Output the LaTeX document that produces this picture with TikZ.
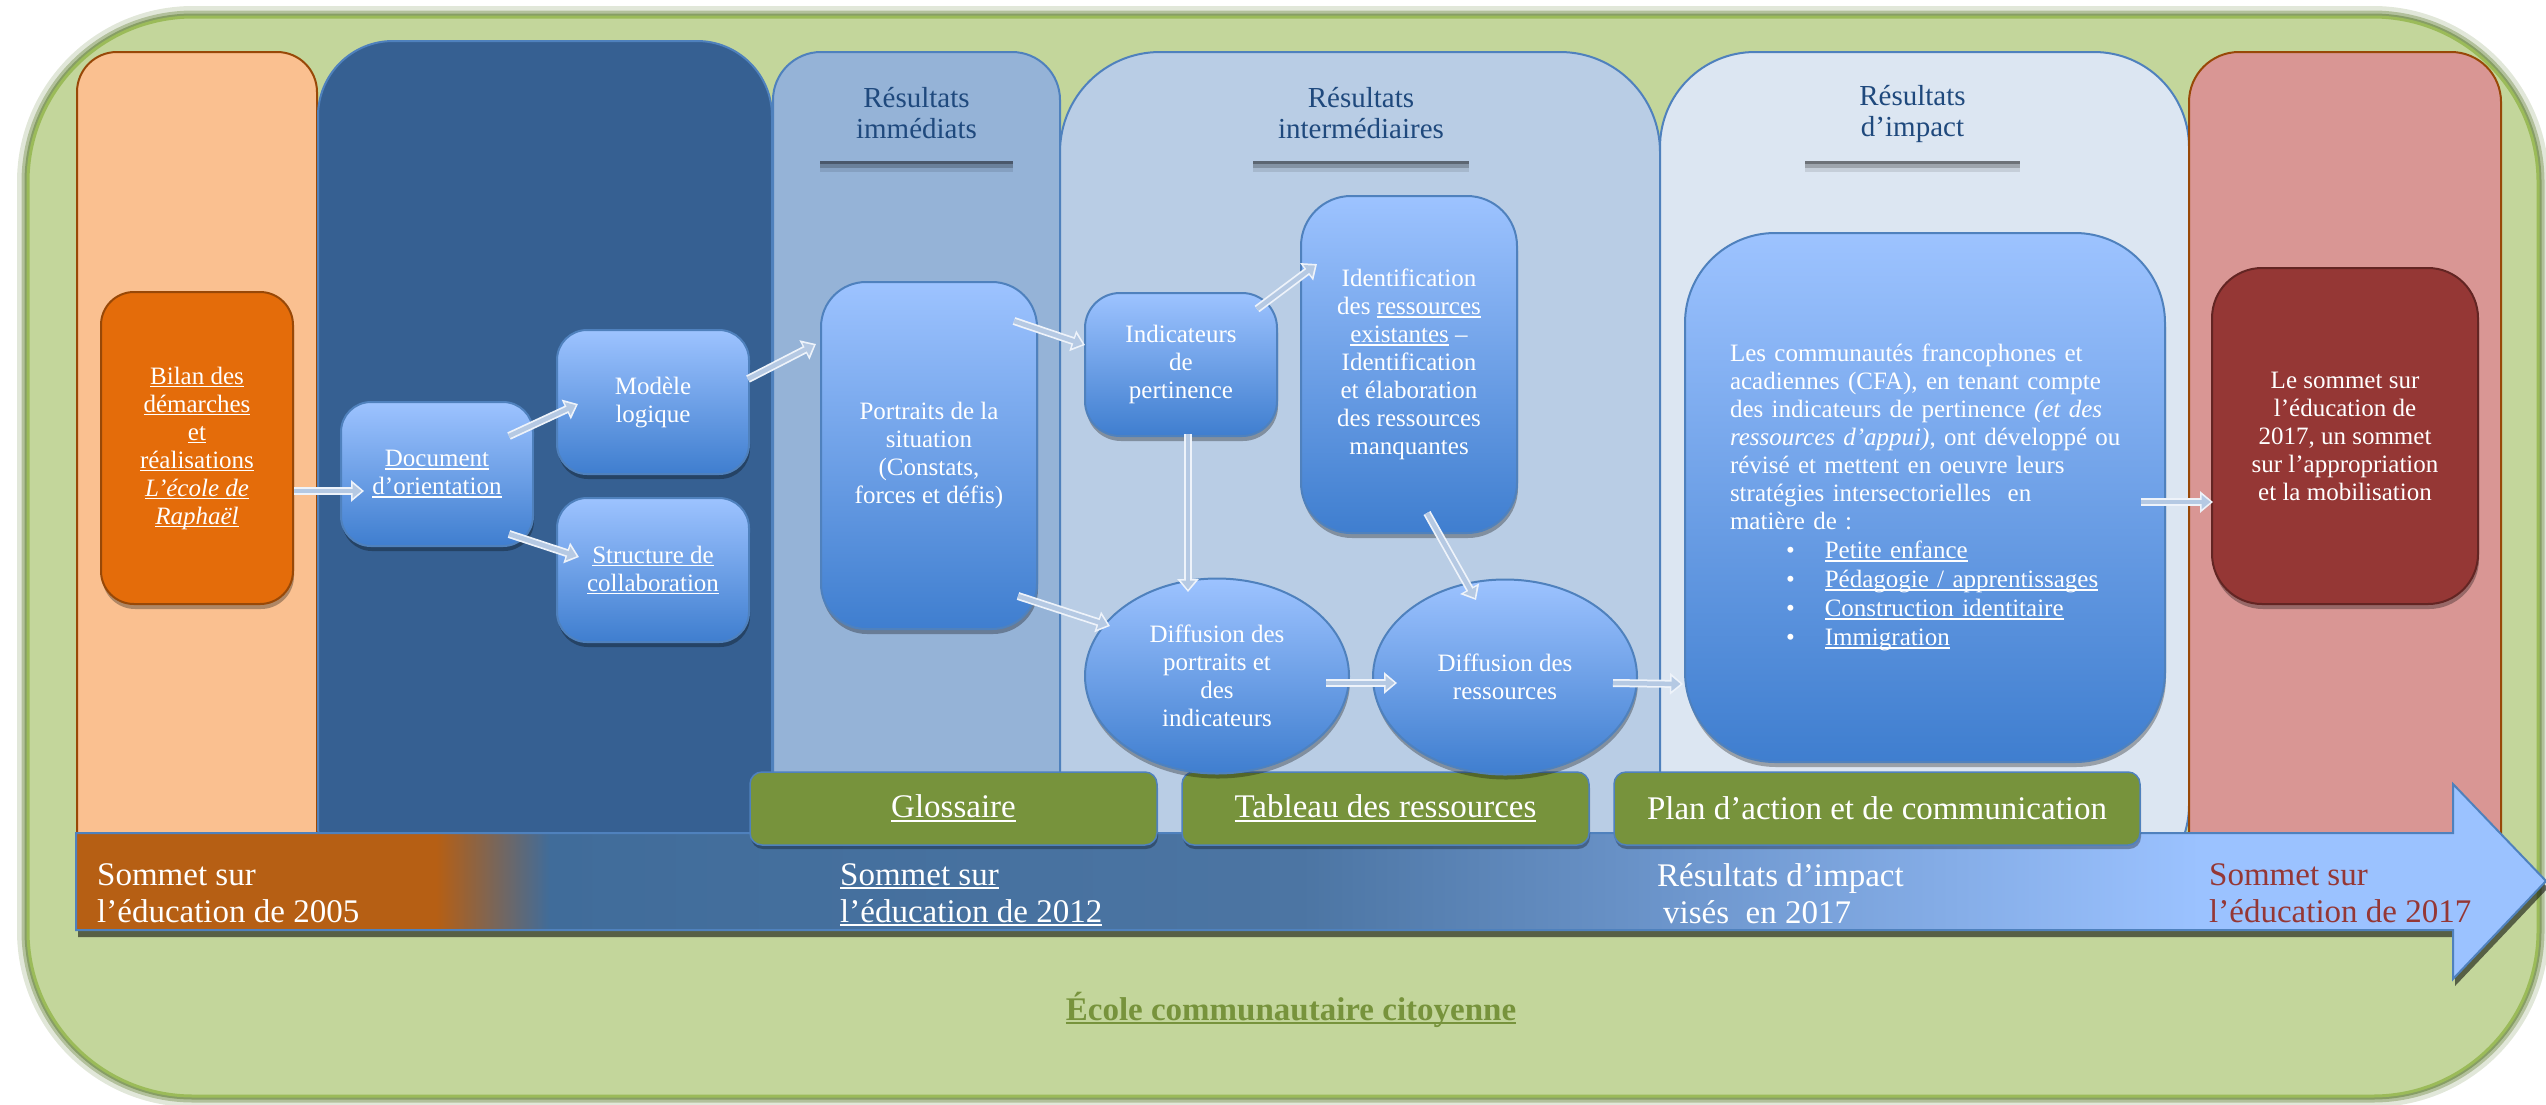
\documentclass[tikz,border=0pt]{standalone}
\usepackage{fontspec}
\setmainfont{Liberation Serif}
\usetikzlibrary{shapes.geometric,arrows.meta,shadows}

\definecolor{framefill}{HTML}{C3D69B}
\definecolor{frameline}{HTML}{9BBB59}
\definecolor{frameglow}{HTML}{6B8740}
\definecolor{peach}{HTML}{FAC090}
\definecolor{brownedge}{HTML}{984807}
\definecolor{darkcol}{HTML}{366092}
\definecolor{colA}{HTML}{95B3D7}
\definecolor{colB}{HTML}{B9CDE5}
\definecolor{colC}{HTML}{DCE6F2}
\definecolor{redcol}{HTML}{D99694}
\definecolor{boxedge}{HTML}{4F81BD}
\definecolor{boxtop}{HTML}{9DC3FF}
\definecolor{boxbot}{HTML}{3F7ECF}
\definecolor{bilanfill}{HTML}{E46C0A}
\definecolor{sommetfill}{HTML}{953735}
\definecolor{sommetedge}{HTML}{632523}
\definecolor{barfill}{HTML}{77933C}
\definecolor{hdrtext}{HTML}{1F497D}
\definecolor{redtext}{HTML}{953735}
\definecolor{arrout}{HTML}{EEF3FA}
\definecolor{arrin}{HTML}{B5C9E3}
\definecolor{tlor}{HTML}{B65F14}
\definecolor{tlbA}{HTML}{406C9A}
\definecolor{tlbB}{HTML}{4C75A3}
\definecolor{tlbC}{HTML}{6F98CF}
\definecolor{tlbD}{HTML}{9BC2FF}

\pgfdeclarehorizontalshading{tlshade}{100bp}{color(0bp)=(tlor); color(25bp)=(tlor); color(32.3bp)=(tlor); color(34.6bp)=(tlbA); color(49.8bp)=(tlbB); color(57.9bp)=(tlbC); color(68bp)=(tlbD); color(75bp)=(tlbD); color(100bp)=(tlbD)}

\newcommand\myboxfont{\fontsize{25}{28}\selectfont}
\newcommand\myhdrfont{\fontsize{29}{31}\selectfont}
\newcommand\mytlfont{\fontsize{33}{37}\selectfont}
\newcommand\mybarfont{\fontsize{33}{37}\selectfont}
\newcommand\mybotfont{\fontsize{33}{37}\selectfont\bfseries}
\newcommand\myul[1]{\leavevmode\setbox0=\hbox{#1}\rlap{\rule[-0.13em]{\wd0}{0.065em}}\box0\relax}

\begin{document}
\begin{tikzpicture}[x=1pt,y=-1pt,
  bluebox/.style={draw=boxedge, line width=2pt, top color=boxtop, bottom color=boxbot,
    rounded corners=#1, text=white, align=center, inner sep=0pt, font=\myboxfont,
    drop shadow={shadow xshift=1pt,shadow yshift=-5pt,opacity=0.3,fill=black}},
  bluebox/.default=30pt,
  blueell/.style={ellipse, draw=boxedge, line width=2pt, top color=boxtop, bottom color=boxbot,
    text=white, align=center, inner sep=0pt, font=\myboxfont,
    drop shadow={shadow xshift=1pt,shadow yshift=-5pt,opacity=0.3,fill=black}},
  hdr/.style={fill=#1, text=hdrtext, align=center, inner sep=0pt, font=\myhdrfont,
    minimum height=95pt,
    drop shadow={shadow xshift=0pt,shadow yshift=-3pt,opacity=0.3,fill=black},
    drop shadow={shadow xshift=0pt,shadow yshift=-7pt,opacity=0.2,fill=black},
    drop shadow={shadow xshift=0pt,shadow yshift=-11pt,opacity=0.1,fill=black}},
  gbar/.style={fill=barfill, draw=boxedge, line width=1.5pt, rounded corners=12pt,
    text=white, font=\mybarfont, inner sep=0pt, minimum height=73pt,
    drop shadow={shadow xshift=1pt,shadow yshift=-4pt,opacity=0.3,fill=black}},
  tltext/.style={anchor=north west, align=left, inner sep=0pt, font=\mytlfont, text=white},
  blk/.style={line width=8pt, draw=arrout, -{Triangle[length=13pt,width=21pt]},
    postaction={draw=arrin, line width=4.5pt, shorten >=2.5pt, -{Triangle[length=9pt,width=14pt]}}},
  column/.style={line width=2pt}
]
\useasboundingbox (0,0) rectangle (2546,1104);

% outer frame
\draw[line width=22pt, draw=frameglow, opacity=0.2, rounded corners=165pt] (28,17) rectangle (2538,1096);
\draw[line width=13pt, draw=frameglow, opacity=0.4, rounded corners=165pt] (28,17) rectangle (2538,1096);
\draw[line width=7pt, draw=frameglow, opacity=0.6, rounded corners=165pt] (28,17) rectangle (2538,1096);
\draw[fill=framefill, draw=frameline, line width=3pt, rounded corners=165pt] (28,17) rectangle (2538,1096);

% columns
\begin{scope}
\clip (0,0) rectangle (2546,833);
\draw[column, fill=peach, draw=brownedge, rounded corners=40pt] (77,52) rectangle (317,900);
\draw[column, fill=darkcol, draw=boxedge, rounded corners=75pt] (318,41) rectangle (772,900);
\draw[column, fill=colA, draw=boxedge, rounded corners=48pt] (773,52) rectangle (1060,900);
\draw[column, fill=colB, draw=boxedge, rounded corners=100pt] (1060,52) rectangle (1660,900);
\draw[column, fill=colC, draw=boxedge, rounded corners=95pt] (1660,52) rectangle (2189,900);
\draw[column, fill=redcol, draw=brownedge, rounded corners=50pt] (2189,52) rectangle (2501,900);
\end{scope}

% timeline arrow
\shadedraw[shading=tlshade, draw=boxedge, line width=2pt,
  drop shadow={shadow xshift=2pt,shadow yshift=-7pt,opacity=0.55,fill=black}]
  (76,833) -- (2453,833) -- (2453,784) -- (2546,881) -- (2453,979) -- (2453,930) -- (76,930) -- cycle;

\node[tltext] (t2005) at (97,863) {Sommet sur\\l’éducation de 2005};
\node[tltext] (t2012) at (840,863) {\myul{Sommet sur}\\\myul{l’éducation de 2012}};
\node[tltext] (timp) at (1657,863) {Résultats d’impact\\\hspace*{6pt}visés\ \ en 2017};
\node[tltext, text=redtext] (t2017) at (2209,863) {Sommet sur\\l’éducation de 2017};

% header boxes
\node[hdr=colA, minimum width=193pt] (hA) at (916.5,113.5) {Résultats\\immédiats};
\node[hdr=colB, minimum width=216pt] (hB) at (1361,113.5) {Résultats\\intermédiaires};
\node[hdr=colC, minimum width=215pt] (hC) at (1912.5,113.5) {Résultats\\d’impact};

% green bars
\node[gbar, minimum width=407pt] (glos) at (953.5,808.5) {\myul{Glossaire}};
\node[gbar, minimum width=407pt] (tabl) at (1385.5,808.5) {\myul{Tableau des ressources}};
\node[gbar, minimum width=526pt] (plan) at (1877,808.5) {Plan d’action et de communication};

% boxes
\node[bluebox=33pt, fill=bilanfill, top color=bilanfill, bottom color=bilanfill, draw=brownedge,
  minimum width=192pt, minimum height=312pt] (bilan) at (197,448)
  {\myul{Bilan des}\\\myul{démarches}\\\myul{et}\\\myul{réalisations}\\\myul{\textit{L’école de}}\\\myul{\textit{Raphaël}}};
\node[bluebox, minimum width=192pt, minimum height=144pt] (doc) at (437,474)
  {\myul{Document}\\\myul{d’orientation}};
\node[bluebox, minimum width=192pt, minimum height=144pt] (mod) at (653,402)
  {Modèle\\logique};
\node[bluebox, minimum width=192pt, minimum height=144pt] (str) at (653,570)
  {\myul{Structure de}\\\myul{collaboration}};
\node[bluebox=45pt, minimum width=216pt, minimum height=347pt] (por) at (929,455.5)
  {Portraits de la\\situation\\(Constats,\\forces et défis)};
\node[bluebox=35pt, minimum width=192pt, minimum height=143pt] (ind) at (1181,364.5)
  {Indicateurs\\de\\pertinence};
\node[bluebox=50pt, minimum width=216pt, minimum height=337pt] (idn) at (1409,364.5)
  {Identification\\des \myul{ressources}\\\myul{existantes} –\\Identification\\et élaboration\\des ressources\\manquantes};
\node[blueell, minimum width=264pt, minimum height=195pt] (dp) at (1217,676)
  {Diffusion des\\portraits et\\des\\indicateurs};
\node[blueell, minimum width=264pt, minimum height=195pt] (dr) at (1505,677)
  {Diffusion des\\ressources};
\node[bluebox=90pt, minimum width=480pt, minimum height=529pt, text width=410pt, align=left] (cfa) at (1925,497.5)
  {\leftskip=10pt Les communautés francophones et\\
   acadiennes (CFA), en tenant compte\\
   des indicateurs de pertinence \textit{(et des}\\
   \textit{ressources d’appui)}, ont développé ou\\
   révisé et mettent en oeuvre leurs\\
   stratégies intersectorielles\ \ en\\
   matière de :\\[1pt]
   \hspace*{56pt}•\hspace*{30pt}\myul{Petite enfance}\\[1pt]
   \hspace*{56pt}•\hspace*{30pt}\myul{Pédagogie / apprentissages}\\[1pt]
   \hspace*{56pt}•\hspace*{30pt}\myul{Construction identitaire}\\[1pt]
   \hspace*{56pt}•\hspace*{30pt}\myul{Immigration}\par};
\node[bluebox=50pt, top color=sommetfill, bottom color=sommetfill, draw=sommetedge,
  minimum width=266pt, minimum height=336pt] (som) at (2345,436)
  {Le sommet sur\\l’éducation de\\2017, un sommet\\sur l’appropriation\\et la mobilisation};

% bottom label
\node[anchor=base, inner sep=0pt, font=\mybotfont, text=barfill] (ecole) at (1291,1020)
  {\myul{École communautaire citoyenne}};

% connectors
\draw[blk] ([yshift=-43pt]bilan.east) -- ([xshift=24pt,yshift=-17pt]doc.west);
\draw[blk] ([xshift=-25pt,yshift=-35pt]doc.north east) -- ([xshift=22pt,yshift=-2pt]mod.west);
\draw[blk] ([xshift=-25pt,yshift=13pt]doc.south east) -- ([xshift=23pt,yshift=13pt]str.west);
\draw[blk] ([xshift=-2pt,yshift=23pt]mod.east) -- ([xshift=-4pt,yshift=-63pt]por.north west);
\draw[blk] ([xshift=-24pt,yshift=-40pt]por.north east) -- ([xshift=1pt,yshift=19.5pt]ind.west);
\draw[blk] ([xshift=-21pt,yshift=-17pt]ind.north east) -- ([xshift=17pt,yshift=-69pt]idn.north west);
\draw[blk] ([xshift=7pt,yshift=3pt]ind.south) -- ([xshift=-29pt,yshift=-14.5pt]dp.north);
\draw[blk] ([xshift=-20pt,yshift=34pt]por.south east) -- ([xshift=26pt,yshift=50pt]dp.west);
\draw[blk] ([xshift=18pt,yshift=21pt]idn.south) -- ([xshift=-29pt,yshift=-21.5pt]dr.north);
\draw[blk] ([xshift=-24pt,yshift=-7pt]dp.east) -- ([xshift=25pt,yshift=-6pt]dr.west);
\draw[blk] ([xshift=-25pt,yshift=-6pt]dr.east) -- ([xshift=-1pt,yshift=79pt]cfa.south west);
\draw[blk] ([xshift=-25pt,yshift=-4.5pt]cfa.east) -- ([xshift=2pt,yshift=-66pt]som.west);
\end{tikzpicture}
\end{document}
